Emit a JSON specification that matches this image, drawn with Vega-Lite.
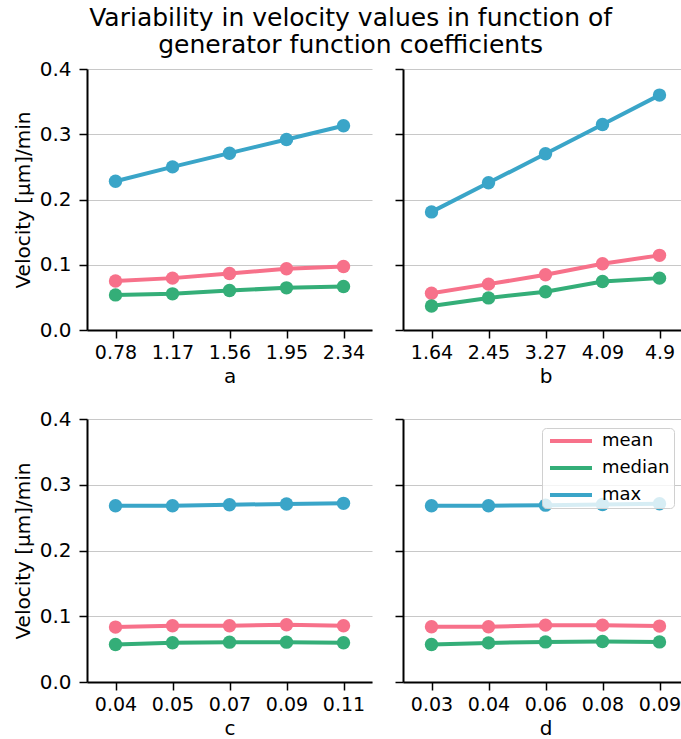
{
  "$schema": "https://vega.github.io/schema/vega-lite/v6.json",
  "padding": {"left": 13, "top": 6, "right": 0, "bottom": 0},
  "title": {
    "text": ["Variability in velocity values in function of", "generator function coefficients"],
    "font": "DejaVu Sans", "fontSize": 25, "fontWeight": "normal", "color": "black",
    "anchor": "middle", "lineHeight": 27, "offset": 1
  },
  "data": {"values": [
    {"coef": "a", "x": "0.78", "stat": "max", "value": 0.228},
    {"coef": "a", "x": "1.17", "stat": "max", "value": 0.250},
    {"coef": "a", "x": "1.56", "stat": "max", "value": 0.271},
    {"coef": "a", "x": "1.95", "stat": "max", "value": 0.292},
    {"coef": "a", "x": "2.34", "stat": "max", "value": 0.313},
    {"coef": "a", "x": "0.78", "stat": "mean", "value": 0.075},
    {"coef": "a", "x": "1.17", "stat": "mean", "value": 0.0795},
    {"coef": "a", "x": "1.56", "stat": "mean", "value": 0.0867},
    {"coef": "a", "x": "1.95", "stat": "mean", "value": 0.0938},
    {"coef": "a", "x": "2.34", "stat": "mean", "value": 0.0974},
    {"coef": "a", "x": "0.78", "stat": "median", "value": 0.0538},
    {"coef": "a", "x": "1.17", "stat": "median", "value": 0.0554},
    {"coef": "a", "x": "1.56", "stat": "median", "value": 0.0605},
    {"coef": "a", "x": "1.95", "stat": "median", "value": 0.0646},
    {"coef": "a", "x": "2.34", "stat": "median", "value": 0.0667},
    {"coef": "b", "x": "1.64", "stat": "max", "value": 0.181},
    {"coef": "b", "x": "2.45", "stat": "max", "value": 0.2256},
    {"coef": "b", "x": "3.27", "stat": "max", "value": 0.270},
    {"coef": "b", "x": "4.09", "stat": "max", "value": 0.315},
    {"coef": "b", "x": "4.9", "stat": "max", "value": 0.360},
    {"coef": "b", "x": "1.64", "stat": "mean", "value": 0.0564},
    {"coef": "b", "x": "2.45", "stat": "mean", "value": 0.0703},
    {"coef": "b", "x": "3.27", "stat": "mean", "value": 0.0846},
    {"coef": "b", "x": "4.09", "stat": "mean", "value": 0.1015},
    {"coef": "b", "x": "4.9", "stat": "mean", "value": 0.1144},
    {"coef": "b", "x": "1.64", "stat": "median", "value": 0.0369},
    {"coef": "b", "x": "2.45", "stat": "median", "value": 0.0492},
    {"coef": "b", "x": "3.27", "stat": "median", "value": 0.0585},
    {"coef": "b", "x": "4.09", "stat": "median", "value": 0.0744},
    {"coef": "b", "x": "4.9", "stat": "median", "value": 0.0795},
    {"coef": "c", "x": "0.04", "stat": "max", "value": 0.268},
    {"coef": "c", "x": "0.05", "stat": "max", "value": 0.268},
    {"coef": "c", "x": "0.07", "stat": "max", "value": 0.2697},
    {"coef": "c", "x": "0.09", "stat": "max", "value": 0.2707},
    {"coef": "c", "x": "0.11", "stat": "max", "value": 0.2717},
    {"coef": "c", "x": "0.04", "stat": "mean", "value": 0.0835},
    {"coef": "c", "x": "0.05", "stat": "mean", "value": 0.0855},
    {"coef": "c", "x": "0.07", "stat": "mean", "value": 0.0855},
    {"coef": "c", "x": "0.09", "stat": "mean", "value": 0.087},
    {"coef": "c", "x": "0.11", "stat": "mean", "value": 0.0855},
    {"coef": "c", "x": "0.04", "stat": "median", "value": 0.057},
    {"coef": "c", "x": "0.05", "stat": "median", "value": 0.0596},
    {"coef": "c", "x": "0.07", "stat": "median", "value": 0.0606},
    {"coef": "c", "x": "0.09", "stat": "median", "value": 0.0606},
    {"coef": "c", "x": "0.11", "stat": "median", "value": 0.0596},
    {"coef": "d", "x": "0.03", "stat": "max", "value": 0.268},
    {"coef": "d", "x": "0.04", "stat": "max", "value": 0.268},
    {"coef": "d", "x": "0.06", "stat": "max", "value": 0.269},
    {"coef": "d", "x": "0.08", "stat": "max", "value": 0.270},
    {"coef": "d", "x": "0.09", "stat": "max", "value": 0.271},
    {"coef": "d", "x": "0.03", "stat": "mean", "value": 0.084},
    {"coef": "d", "x": "0.04", "stat": "mean", "value": 0.084},
    {"coef": "d", "x": "0.06", "stat": "mean", "value": 0.0865},
    {"coef": "d", "x": "0.08", "stat": "mean", "value": 0.0865},
    {"coef": "d", "x": "0.09", "stat": "mean", "value": 0.085},
    {"coef": "d", "x": "0.03", "stat": "median", "value": 0.057},
    {"coef": "d", "x": "0.04", "stat": "median", "value": 0.0595},
    {"coef": "d", "x": "0.06", "stat": "median", "value": 0.061},
    {"coef": "d", "x": "0.08", "stat": "median", "value": 0.0616},
    {"coef": "d", "x": "0.09", "stat": "median", "value": 0.061}
  ]},
  "columns": 2,
  "spacing": {"row": 23, "column": 22},
  "resolve": {"legend": {"color": "independent"}},
  "concat": [
    {
      "width": 285, "height": 261,
      "transform": [{"filter": "datum.coef === 'a'"}],
      "encoding": {
        "x": {"field": "x", "type": "ordinal", "title": "a", "scale": {"type": "point", "padding": 0.5}},
        "y": {"field": "value", "type": "quantitative", "scale": {"domain": [0, 0.4]}, "title": "Velocity [μm]/min", "axis": {"values": [0, 0.1, 0.2, 0.3, 0.4]}},
        "color": {"field": "stat", "type": "nominal", "scale": {"domain": ["mean", "median", "max"], "range": ["#f7718a", "#34ae78", "#3aa5c8"]}, "legend": null}
      },
      "layer": [
        {"mark": {"type": "line", "strokeWidth": 4}},
        {"mark": {"type": "point", "filled": true, "size": 180, "opacity": 1}}
      ]
    },
    {
      "width": 285, "height": 261,
      "transform": [{"filter": "datum.coef === 'b'"}],
      "encoding": {
        "x": {"field": "x", "type": "ordinal", "title": "b", "scale": {"type": "point", "padding": 0.5}},
        "y": {"field": "value", "type": "quantitative", "scale": {"domain": [0, 0.4]}, "title": null, "axis": {"labels": false, "values": [0, 0.1, 0.2, 0.3, 0.4]}},
        "color": {"field": "stat", "type": "nominal", "scale": {"domain": ["mean", "median", "max"], "range": ["#f7718a", "#34ae78", "#3aa5c8"]}, "legend": null}
      },
      "layer": [
        {"mark": {"type": "line", "strokeWidth": 4}},
        {"mark": {"type": "point", "filled": true, "size": 180, "opacity": 1}}
      ]
    },
    {
      "width": 285, "height": 263,
      "transform": [{"filter": "datum.coef === 'c'"}],
      "encoding": {
        "x": {"field": "x", "type": "ordinal", "title": "c", "scale": {"type": "point", "padding": 0.5}},
        "y": {"field": "value", "type": "quantitative", "scale": {"domain": [0, 0.4]}, "title": "Velocity [μm]/min", "axis": {"values": [0, 0.1, 0.2, 0.3, 0.4]}},
        "color": {"field": "stat", "type": "nominal", "scale": {"domain": ["mean", "median", "max"], "range": ["#f7718a", "#34ae78", "#3aa5c8"]}, "legend": null}
      },
      "layer": [
        {"mark": {"type": "line", "strokeWidth": 4}},
        {"mark": {"type": "point", "filled": true, "size": 180, "opacity": 1}}
      ]
    },
    {
      "width": 285, "height": 263,
      "transform": [{"filter": "datum.coef === 'd'"}],
      "encoding": {
        "x": {"field": "x", "type": "ordinal", "title": "d", "scale": {"type": "point", "padding": 0.5}},
        "y": {"field": "value", "type": "quantitative", "scale": {"domain": [0, 0.4]}, "title": null, "axis": {"labels": false, "values": [0, 0.1, 0.2, 0.3, 0.4]}},
        "color": {"field": "stat", "type": "nominal", "scale": {"domain": ["mean", "median", "max"], "range": ["#f7718a", "#34ae78", "#3aa5c8"]},
          "legend": {"orient": "none", "legendX": 139, "legendY": 9}}
      },
      "layer": [
        {"mark": {"type": "line", "strokeWidth": 4}},
        {"mark": {"type": "point", "filled": true, "size": 180, "opacity": 1}}
      ]
    }
  ],
  "config": {
    "view": {"stroke": null},
    "font": "DejaVu Sans",
    "axis": {
      "domain": true, "ticks": true,
      "domainColor": "#000000", "domainWidth": 2, "tickColor": "#000000", "tickWidth": 1.5, "tickSize": 8,
      "labelFont": "DejaVu Sans", "labelFontSize": 20, "labelColor": "black",
      "titleFont": "DejaVu Sans", "titleFontSize": 20, "titleFontWeight": "normal", "titleColor": "black"
    },
    "axisX": {"grid": false, "labelAngle": 0, "labelPadding": 5, "labelFontSize": 19, "titlePadding": 4},
    "axisY": {"grid": true, "gridColor": "#c8c8c8", "gridWidth": 1.2, "format": ".1f", "labelPadding": 8, "titlePadding": 6},
    "legend": {
      "title": null, "symbolType": "M-3,0H3", "symbolStrokeWidth": 4, "symbolSize": 196, "symbolOffset": 16,
      "labelFont": "DejaVu Sans", "labelFontSize": 18, "labelColor": "black", "labelOffset": 22,
      "rowPadding": 9, "padding": 4, "fillColor": "rgba(255,255,255,0.8)", "strokeColor": "#d0d0d0",
      "cornerRadius": 4
    }
  }
}
